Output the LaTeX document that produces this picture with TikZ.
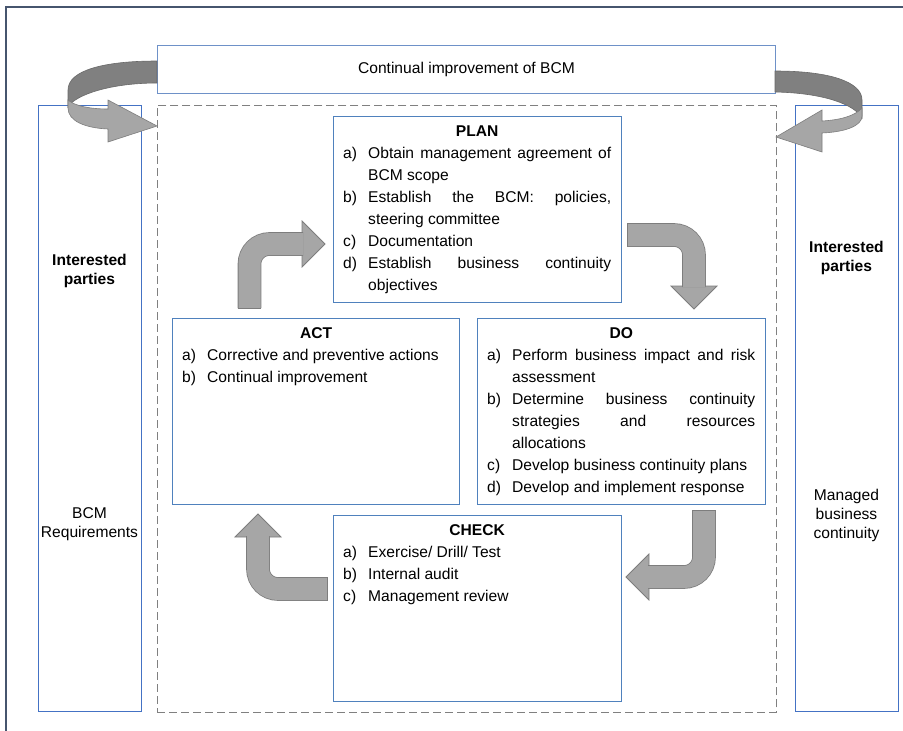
\documentclass[tikz,border=0pt]{standalone}
\usepackage{fontspec}
\setmainfont{Liberation Sans}
\usetikzlibrary{calc}
\definecolor{boxblue}{RGB}{79,129,189}
\definecolor{sideblue}{RGB}{68,114,196}
\definecolor{topblue}{RGB}{110,145,200}
\definecolor{framecol}{RGB}{70,85,110}
\definecolor{dashgray}{RGB}{128,128,128}
\definecolor{arrowfill}{RGB}{166,166,166}
\definecolor{arrowedge}{RGB}{125,125,125}
\definecolor{ribbondark}{RGB}{128,128,128}
\definecolor{ribbonedge}{RGB}{105,105,105}
\newcommand{\itm}[2]{\par\noindent\hangindent=25pt\hangafter=1\makebox[25pt][l]{#1}#2}
\newcommand{\hdr}[1]{\noindent\makebox[\hsize]{\strut\bfseries #1}}
\begin{document}
\begin{tikzpicture}[x=1pt,y=-1pt,
  box/.style={draw=boxblue, line width=0.9pt, fill=white, inner sep=0pt, anchor=north west},
  sidebox/.style={draw=sideblue, line width=0.9pt, inner sep=0pt, anchor=north west},
  txt/.style={anchor=north west, inner sep=0pt, text width=268pt, align=justify, font=\fontsize{15.6}{22}\selectfont},
  sidetxt/.style={inner sep=0pt, align=center, font=\fontsize{15.6}{19}\selectfont},
  sidebold/.style={inner sep=0pt, align=center, font=\fontsize{15.6}{19}\selectfont\bfseries},
  shaft/.style={draw=arrowedge, line width=0.8pt, double=arrowfill, double distance=22pt, rounded corners=20pt},
  arrhead/.style={fill=arrowfill, draw=arrowedge, line width=0.8pt, line join=miter},
  tailedge/.style={draw=arrowedge, line width=0.8pt},
  ribbon/.style={fill=ribbondark, draw=ribbonedge, line width=0.6pt},
  ribbonfront/.style={fill=arrowfill, draw=arrowedge, line width=0.6pt, line join=miter}]
\useasboundingbox (0,0) rectangle (903,731);
\fill[white] (0,0) rectangle (903,731);
% outer frame
\draw[framecol, line width=1.5pt] (6,731) -- (6,7) -- (903,7);
% side boxes
\node[sidebox, minimum width=103pt, minimum height=606pt] (lp) at (38,105) {};
\node[sidebox, minimum width=103pt, minimum height=606pt] (rp) at (795,105) {};
\node[sidebold] (lpt1) at (89.5,270.5) {Interested\\parties};
\node[sidetxt] (lpt2) at (89.5,524) {BCM\\Requirements};
\node[sidebold] (rpt1) at (846.5,258) {Interested\\parties};
\node[sidetxt] (rpt2) at (846.5,515) {Managed\\business\\continuity};
% dashed cycle frame
\node[draw=dashgray, dash pattern=on 8pt off 4pt, line width=0.9pt, inner sep=0pt, anchor=north west,
      minimum width=619pt, minimum height=607pt] (pdca) at (157,105) {};
% top box
\node[draw=topblue, line width=0.9pt, fill=white, inner sep=0pt, anchor=north west,
      minimum width=618pt, minimum height=48pt, font=\fontsize{15.6}{19}\selectfont] (ci) at (157,45) {Continual improvement of BCM};
% PDCA boxes
\node[box, minimum width=288pt, minimum height=186pt] (plan) at (333,116) {};
\node[box, minimum width=287pt, minimum height=186pt] (act) at (172,318) {};
\node[box, minimum width=288pt, minimum height=186pt] (do) at (477,318) {};
\node[box, minimum width=288pt, minimum height=186pt] (check) at (333,515) {};
\node[txt] (plantxt) at ($(plan.north west)+(10,5)$) {\hdr{PLAN}
\itm{a)}{Obtain management agreement of\linebreak BCM scope}
\itm{b)}{Establish the BCM: policies,\linebreak steering committee}
\itm{c)}{Documentation}
\itm{d)}{Establish business continuity\linebreak objectives}\par};
\node[txt] (acttxt) at ($(act.north west)+(10,5)$) {\hdr{ACT}
\itm{a)}{Corrective and preventive actions}
\itm{b)}{Continual improvement}\par};
\node[txt] (dotxt) at ($(do.north west)+(10,5)$) {\hdr{DO}
\itm{a)}{Perform business impact and risk\linebreak assessment}
\itm{b)}{Determine business continuity\linebreak strategies and resources\linebreak allocations}
\itm{c)}{Develop business continuity plans}
\itm{d)}{Develop and implement response}\par};
\node[txt] (checktxt) at ($(check.north west)+(10,5)$) {\hdr{CHECK}
\itm{a)}{Exercise/ Drill/ Test}
\itm{b)}{Internal audit}
\itm{c)}{Management review}\par};
% cycle arrows: ACT -> PLAN
\coordinate (a1s) at (249.5,308);
\coordinate (a1c) at (249.5,244);
\coordinate (a1e) at (303,244);
\draw[arrhead] (302,221) -- (325,244) -- (302,267) -- cycle;
\draw[shaft] (a1s) -- (a1c) -- (a1e);
\draw[tailedge] ($(a1s)+(-11.8,0)$) -- ($(a1s)+(11.8,0)$);
% PLAN -> DO
\coordinate (a2s) at (627,235);
\coordinate (a2c) at (694,235);
\coordinate (a2e) at (694,287);
\draw[arrhead] (671,286) -- (694,309) -- (717,286) -- cycle;
\draw[shaft] (a2s) -- (a2c) -- (a2e);
\draw[tailedge] ($(a2s)+(0,-11.8)$) -- ($(a2s)+(0,11.8)$);
% DO -> CHECK
\coordinate (a3s) at (704,510);
\coordinate (a3c) at (704,577);
\coordinate (a3e) at (648,577);
\draw[arrhead] (649,554) -- (626,577) -- (649,600) -- cycle;
\draw[shaft] (a3s) -- (a3c) -- (a3e);
\draw[tailedge] ($(a3s)+(-11.8,0)$) -- ($(a3s)+(11.8,0)$);
% CHECK -> ACT
\coordinate (a4s) at (327,589);
\coordinate (a4c) at (258,589);
\coordinate (a4e) at (258,536);
\draw[arrhead] (235,537) -- (258,514) -- (281,537) -- cycle;
\draw[shaft] (a4s) -- (a4c) -- (a4e);
\draw[tailedge] ($(a4s)+(0,-11.8)$) -- ($(a4s)+(0,11.8)$);
% curved improvement arrows
\draw[ribbon] (157,61) .. controls (105,61) and (68,70) .. (68,90) -- (68,107) .. controls (75,95) and (110,83) .. (157,83) -- cycle;
\draw[ribbonfront] (68,100) .. controls (75,106) and (90,109) .. (108,109) -- (108,100) -- (157,126) -- (108,142) -- (108,129) .. controls (85,128) and (68,121) .. (68,108) -- cycle;
\draw[ribbon] (775,71) .. controls (830,71) and (862,82) .. (862,100) -- (862,118) .. controls (855,105) and (825,93) .. (775,92) -- cycle;
\draw[ribbonfront] (862,108) .. controls (855,116) and (840,120) .. (822,121) -- (822,110) -- (776,137) -- (822,152) -- (822,133) .. controls (845,132) and (862,126) .. (862,116) -- cycle;
\end{tikzpicture}
\end{document}
